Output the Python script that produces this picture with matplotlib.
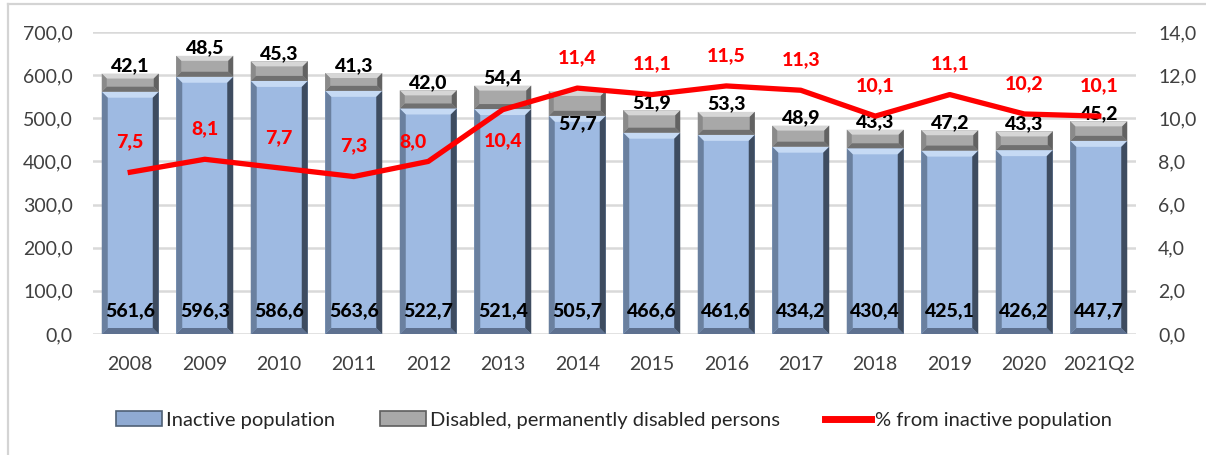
import matplotlib
matplotlib.use("Agg")
import matplotlib.pyplot as plt
from matplotlib.patches import Polygon, Patch
from matplotlib.lines import Line2D

categories = ["2008", "2009", "2010", "2011", "2012", "2013", "2014", "2015",
              "2016", "2017", "2018", "2019", "2020", "2021Q2"]
inactive = [561.6, 596.3, 586.6, 563.6, 522.7, 521.4, 505.7, 466.6,
            461.6, 434.2, 430.4, 425.1, 426.2, 447.7]
disabled = [42.1, 48.5, 45.3, 41.3, 42.0, 54.4, 57.7, 51.9,
            53.3, 48.9, 43.3, 47.2, 43.3, 45.2]
share = [7.5, 8.1, 7.7, 7.3, 8.0, 10.4, 11.4, 11.1, 11.5, 11.3, 10.1, 11.1, 10.2, 10.1]
left_ticks = [0, 100, 200, 300, 400, 500, 600, 700]
right_ticks = [0, 2, 4, 6, 8, 10, 12, 14]

FONT = ["Lato", "DejaVu Sans"]
plt.rcParams["font.family"] = FONT

W, H = 1206, 455
fig = plt.figure(figsize=(W / 100, H / 100), dpi=100)
fig.patch.set_facecolor("white")

# frame of the original image (left and top border only visible)
fig.add_artist(Line2D([8 / W, 8 / W], [0, 1 - 4 / H], transform=fig.transFigure,
                      color="#D4D4D4", lw=1.6))
fig.add_artist(Line2D([8 / W, 1], [1 - 4 / H, 1 - 4 / H], transform=fig.transFigure,
                      color="#D4D4D4", lw=1.6))

L, R, T, B = 93, 1136, 32, 334
ax = fig.add_axes([L / W, 1 - B / H, (R - L) / W, (B - T) / H])
ax.set_xlim(-0.5, len(categories) - 0.5)
ax.set_ylim(0, 700)
ax2 = ax.twinx()
ax2.set_ylim(0, 14)

px_x = (R - L) / len(categories)
px_y = (B - T) / 700.0

ax.set_yticks(left_ticks)
ax.set_yticklabels([f"{v:.1f}".replace(".", ",") for v in left_ticks])
ax2.set_yticks(right_ticks)
ax2.set_yticklabels([f"{v:.1f}".replace(".", ",") for v in right_ticks])
ax.set_xticks(range(len(categories)))
ax.set_xticklabels(categories)
for a in (ax, ax2):
    for s in a.spines.values():
        s.set_visible(False)
ax.tick_params(axis="y", length=0, pad=14.5, labelsize=14, labelcolor="#404040")
ax2.tick_params(axis="y", length=0, pad=16, labelsize=14, labelcolor="#404040")
ax.tick_params(axis="x", length=0, pad=16, labelsize=14, labelcolor="#404040")
ax.grid(axis="y", color="#D9D9D9", lw=1.8)
ax.set_axisbelow(True)

width = 57 / px_x
x = list(range(len(categories)))


def bevel(patch, bpx, top, left, right, bottom):
    x0, y0 = patch.get_x(), patch.get_y()
    w, h = patch.get_width(), patch.get_height()
    x1, y1 = x0 + w, y0 + h
    bx = bpx / px_x
    by = min(bpx / px_y, h / 2.0)
    polys = [
        ([(x0, y1), (x1, y1), (x1 - bx, y1 - by), (x0 + bx, y1 - by)], top),
        ([(x0, y0), (x1, y0), (x1 - bx, y0 + by), (x0 + bx, y0 + by)], bottom),
        ([(x0, y0), (x0 + bx, y0 + by), (x0 + bx, y1 - by), (x0, y1)], left),
        ([(x1, y0), (x1 - bx, y0 + by), (x1 - bx, y1 - by), (x1, y1)], right),
    ]
    for pts, c in polys:
        ax.add_patch(Polygon(pts, closed=True, facecolor=c, edgecolor="none", zorder=2.5))


bars1 = ax.bar(x, inactive, width, color="#9EBAE2", edgecolor="none", zorder=2)
bars2 = ax.bar(x, disabled, width, bottom=inactive, color="#A8A8A8", edgecolor="none", zorder=2)
for p in bars1:
    bevel(p, 6, "#C6DAF4", "#6A809F", "#3E4C60", "#5E7190")
for p in bars2:
    bevel(p, 5, "#D6D6D6", "#8A8A8A", "#626262", "#707070")

LBL_W = 900

# bar labels
for i in range(len(categories)):
    ax.annotate(f"{inactive[i]:.1f}".replace(".", ","), (x[i], 0),
                xytext=(0, 16.5), textcoords="offset points", ha="center", va="center",
                fontsize=14, fontweight=LBL_W, color="black", zorder=5)
    if i == 6:
        ax.annotate(f"{disabled[i]:.1f}".replace(".", ","), (x[i], inactive[i]),
                    xytext=(0, 0.5), textcoords="offset points", ha="center", va="top",
                    fontsize=14, fontweight=LBL_W, color="black", zorder=5)
    else:
        ax.annotate(f"{disabled[i]:.1f}".replace(".", ","), (x[i], inactive[i] + disabled[i]),
                    xytext=(0, -0.5), textcoords="offset points", ha="center", va="bottom",
                    fontsize=14, fontweight=LBL_W, color="black", zorder=5)

ax2.plot(x, share, color="#FF0000", lw=3.8, zorder=4, solid_joinstyle="round")
for i, v in enumerate(share):
    dx, dy = 0, 22
    if i == 4:
        dx, dy = -11, 14
    if i == 5:
        dx, dy = 0, -22
    ax2.annotate(f"{v:.1f}".replace(".", ","), (x[i], v), xytext=(dx, dy),
                 textcoords="offset points", ha="center", va="center",
                 fontsize=14, fontweight=LBL_W, color="#FF0000", zorder=6)

handles = [Patch(facecolor="#8FAAD2", edgecolor="#4F6075", lw=1.2),
           Patch(facecolor="#A8A8A8", edgecolor="#5E5E5E", lw=1.2),
           Line2D([0], [0], color="#FF0000", lw=5)]
labels = ["Inactive population", "Disabled, permanently disabled persons",
          "% from inactive population"]
fig.legend(handles, labels, loc="center", bbox_to_anchor=(614 / W, 1 - 420 / H),
           ncol=3, frameon=False, fontsize=14.5, handlelength=2.3, handleheight=0.75,
           handletextpad=0.2, columnspacing=2.2, labelcolor="#262626")

fig.savefig("out.png", dpi=100, facecolor="white")
